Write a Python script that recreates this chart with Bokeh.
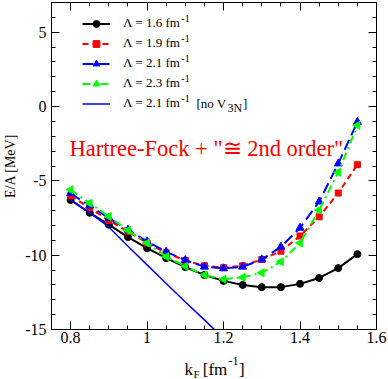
import numpy as np
from bokeh.plotting import figure
from bokeh.layouts import column
from bokeh.models import (Range1d, LinearAxis, FixedTicker, CustomJSTickFormatter,
                          Legend, LegendItem, Label)
from bokeh.embed import file_html
from bokeh.resources import INLINE

# ---------------- data ----------------
k_F = [0.80, 0.85, 0.90, 0.95, 1.00, 1.05, 1.10, 1.15,
       1.20, 1.25, 1.30, 1.35, 1.40, 1.45, 1.50, 1.55]
ea_lam16 = [-6.29, -7.15, -7.95, -8.78, -9.53, -10.20, -10.80, -11.33,
            -11.73, -12.00, -12.15, -12.15, -11.93, -11.53, -10.87, -9.93]
ea_lam19 = [-6.00, -6.82, -7.67, -8.40, -9.18, -9.84, -10.36, -10.71,
            -10.84, -10.71, -10.29, -9.73, -8.71, -7.42, -5.82, -3.91]
ea_lam21 = [-5.84, -6.67, -7.51, -8.29, -9.07, -9.78, -10.33, -10.78,
            -10.89, -10.78, -10.29, -9.44, -8.16, -6.40, -3.84, -1.04]
ea_lam23 = [-5.60, -6.51, -7.40, -8.33, -9.18, -10.10, -10.75, -11.33,
            -11.62, -11.49, -11.18, -10.44, -9.18, -6.96, -4.42, -1.27]
k_F_no3n = [0.80, 0.85, 0.90, 0.95, 1.00, 1.05, 1.10, 1.15, 1.20]
ea_lam21_no3n = [-6.27, -7.15, -8.10, -9.40, -10.65, -11.90, -13.15, -14.35, -15.60]

legend_labels = ["Λ = 1.6 fm", "Λ = 1.9 fm", "Λ = 2.1 fm", "Λ = 2.3 fm", "Λ = 2.1 fm"]
x_ticks = [0.8, 1.0, 1.2, 1.4, 1.6]
y_ticks = [-15, -10, -5, 0, 5]
x_minor = [round(v, 2) for v in np.arange(0.75, 1.6001, 0.05)]
y_minor = list(range(-15, 8))

FONT = "Liberation Serif"

p = figure(width=388, height=349, output_backend="svg", toolbar_location=None,
           x_range=Range1d(0.75, 1.6), y_range=Range1d(-15, 7),
           min_border_left=48, min_border_right=12, min_border_top=2,
           min_border_bottom=20)
p.grid.visible = False
p.outline_line_color = "black"
p.background_fill_color = "white"
p.border_fill_color = "white"

fmt = CustomJSTickFormatter(code="return String(tick);")
blank = CustomJSTickFormatter(code="return '';")


def style_axis(ax, ticker, labels):
    ax.ticker = ticker
    ax.axis_line_color = "black"
    ax.major_tick_in = 8
    ax.major_tick_out = 0
    ax.minor_tick_in = 4
    ax.minor_tick_out = 0
    ax.major_tick_line_color = "black"
    ax.minor_tick_line_color = "black"
    if labels:
        ax.formatter = fmt
        ax.major_label_text_font = FONT
        ax.major_label_text_font_size = "16px"
        ax.major_label_text_color = "black"
    else:
        ax.formatter = blank
        ax.major_label_text_font_size = "0px"
        ax.major_label_standoff = 0


xt = FixedTicker(ticks=x_ticks, minor_ticks=x_minor)
yt = FixedTicker(ticks=y_ticks, minor_ticks=y_minor)

style_axis(p.xaxis[0], xt, True)
p.xaxis[0].major_label_standoff = 2
style_axis(p.yaxis[0], yt, True)
p.yaxis[0].major_label_standoff = 5
p.yaxis[0].axis_label = "E/A [MeV]"
p.yaxis[0].axis_label_text_font = FONT
p.yaxis[0].axis_label_text_font_size = "14px"
p.yaxis[0].axis_label_text_font_style = "normal"
p.yaxis[0].axis_label_text_color = "black"
p.yaxis[0].axis_label_standoff = 4

top_ax = LinearAxis()
style_axis(top_ax, xt, False)
p.add_layout(top_ax, "above")
right_ax = LinearAxis()
style_axis(right_ax, yt, False)
p.add_layout(right_ax, "right")

# ---------------- series ----------------
r16l = p.line(k_F, ea_lam16, line_color="black", line_width=2)
r16m = p.scatter(k_F, ea_lam16, marker="circle", size=7,
                 fill_color="black", line_color="black")
r19l = p.line(k_F, ea_lam19, line_color="#ff0000", line_width=2, line_dash="6 4")
r19m = p.scatter(k_F, ea_lam19, marker="square", size=6,
                 fill_color="#ff0000", line_color="#ff0000")
r21l = p.line(k_F, ea_lam21, line_color="#0000ff", line_width=2, line_dash="11 5")
r21m = p.scatter(k_F, ea_lam21, marker="triangle", size=8,
                 fill_color="#0000ff", line_color="#0000ff")
r23l = p.line(k_F, ea_lam23, line_color="#00ff00", line_width=2, line_dash="8 4 2 4")
r23m = p.scatter(k_F, ea_lam23, marker="triangle", angle=np.pi / 2, size=8,
                 fill_color="#00ff00", line_color="#00ff00")
rno = p.line(k_F_no3n, ea_lam21_no3n, line_color="#0000ff", line_width=1.5)

# ---------------- legend ----------------
row_top = 306.0
pitch = 20
legend = Legend(
    items=[LegendItem(label=legend_labels[0], renderers=[r16l, r16m]),
           LegendItem(label=legend_labels[1], renderers=[r19l, r19m]),
           LegendItem(label=legend_labels[2], renderers=[r21l, r21m]),
           LegendItem(label=legend_labels[3], renderers=[r23l, r23m]),
           LegendItem(label=legend_labels[4], renderers=[rno])],
    location=(31, row_top + 8.5 - (5 * 17 + 4 * 3)),
    orientation="vertical", glyph_width=28, glyph_height=17, label_height=17,
    label_standoff=13, spacing=3, padding=0, margin=0,
    border_line_color=None, background_fill_alpha=0,
    label_text_font=FONT, label_text_font_size="13px", label_text_color="black")
p.add_layout(legend)


def lab(fig, text, x, y, size, color="black", baseline="middle", align="left"):
    fig.add_layout(Label(x=x, y=y, x_units="screen", y_units="screen", text=text,
                         text_font=FONT, text_font_size=size, text_color=color,
                         text_baseline=baseline, text_align=align))


for i in range(5):
    lab(p, "-1", 129.8, row_top - pitch * i + 5, "10px")
last = row_top - pitch * 4
lab(p, "[no V", 145.0, last, "13px")
lab(p, "3N", 176.0, last - 4, "12px")
lab(p, "]", 191.5, last, "13px")

# annotation
lab(p, 'Hartree-Fock + "\u2245 2nd order"', 18.0, 180.7, "22.5px",
    color="#ff0000", baseline="alphabetic")

# ---------------- x-axis label strip: k_F [fm^-1] ----------------
q = figure(width=388, height=30, output_backend="svg", toolbar_location=None,
           x_range=Range1d(0, 1), y_range=Range1d(0, 1),
           x_axis_type=None, y_axis_type=None,
           min_border_left=48, min_border_right=12, min_border_top=0,
           min_border_bottom=0)
q.grid.visible = False
q.outline_line_color = None
q.background_fill_color = "white"
q.border_fill_color = "white"

lab(q, "k", 133.0, 10, "17px", baseline="alphabetic")
lab(q, "F", 142.0, 6, "11px", baseline="alphabetic")
lab(q, "[fm", 151.3, 10, "17px", baseline="alphabetic")
lab(q, "-1", 177.0, 18.5, "12px", baseline="alphabetic")
lab(q, "]", 187.5, 10, "17px", baseline="alphabetic")

layout = column(p, q, spacing=0)
open("out.html", "w").write(file_html(layout, INLINE))
